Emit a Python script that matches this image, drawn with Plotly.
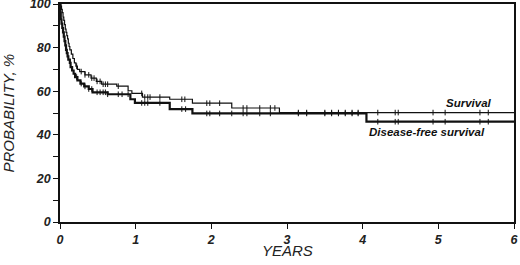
import bisect
import plotly.graph_objects as go

# ---- data ----
surv_t = [0, 0.01, 0.02, 0.03, 0.04, 0.05, 0.06, 0.07, 0.08, 0.09, 0.10, 0.11, 0.12, 0.13,
          0.15, 0.17, 0.19, 0.21, 0.23, 0.26, 0.33, 0.41, 0.48, 0.55, 0.75, 0.90, 0.95,
          1.09, 1.45, 1.75, 2.27, 2.90]
surv_v = [100, 99, 97.5, 96, 94, 92.5, 90.5, 88.5, 87, 85.5, 84, 82, 80.5, 79,
          77, 75, 73, 71.5, 70, 69, 67.5, 66, 64.5, 63.2, 62.3, 60.2, 59,
          57.3, 56.3, 54.5, 52.3, 50.2]
surv_cens = [0.22, 0.28, 0.33, 0.38, 0.42, 0.45, 0.49, 0.53, 0.57, 0.60, 0.63, 0.77, 1.08, 1.12,
             1.16, 1.19, 1.32, 1.61, 1.65, 1.94, 1.98, 2.11, 2.42, 2.47, 2.64, 2.78, 2.84,
             3.15, 3.26, 3.50, 3.59, 3.68, 3.77, 3.86, 3.94, 4.20, 4.43, 4.47, 4.93, 5.09,
             5.55, 5.66]

dfs_t = [0, 0.005, 0.01, 0.02, 0.03, 0.04, 0.05, 0.06, 0.07, 0.08, 0.09, 0.10, 0.11, 0.13,
         0.14, 0.16, 0.18, 0.20, 0.23, 0.27, 0.32, 0.38, 0.43, 0.63, 0.93, 0.99, 1.45,
         1.75, 4.05]
dfs_v = [100, 96, 93, 91, 89, 87, 85, 83, 81, 79, 77.5, 76, 74.5, 73,
         71, 69.5, 68, 66.5, 65, 63.5, 62.2, 61, 59.5, 58.6, 56.3, 54.6, 51.8,
         49.8, 46]
dfs_cens = [0.22, 0.28, 0.33, 0.38, 0.42, 0.49, 0.53, 0.57, 0.60, 0.63, 0.77, 0.82, 0.90, 1.08,
            1.12, 1.16, 1.32, 1.61, 1.66, 1.94, 1.98, 2.11, 2.27, 2.42, 2.47, 2.64, 2.78,
            3.15, 3.26, 3.50, 3.59, 3.68, 3.77, 3.86, 3.94, 4.20, 4.43, 4.47, 4.93, 5.09,
            5.55, 5.66]

x_end = 6.0
x_ticks = [0, 1, 2, 3, 4, 5, 6]
y_ticks = [0, 20, 40, 60, 80, 100]


def step_at(ts, vs, x):
    return vs[bisect.bisect_right(ts, x) - 1]


ink = "#111111"
fam = "Liberation Sans, Arial, sans-serif"
fig = go.Figure()

fig.add_trace(go.Scatter(x=surv_t + [x_end], y=surv_v + [surv_v[-1]], mode="lines",
                         line=dict(shape="hv", color=ink, width=1.2), cliponaxis=False,
                         showlegend=False))
fig.add_trace(go.Scatter(x=dfs_t + [x_end], y=dfs_v + [dfs_v[-1]], mode="lines",
                         line=dict(shape="hv", color=ink, width=2.2), cliponaxis=False,
                         showlegend=False))
fig.add_trace(go.Scatter(x=surv_cens, y=[step_at(surv_t, surv_v, c) for c in surv_cens],
                         mode="markers", showlegend=False,
                         marker=dict(symbol="line-ns", size=4, line=dict(color=ink, width=1))))
fig.add_trace(go.Scatter(x=dfs_cens, y=[step_at(dfs_t, dfs_v, c) for c in dfs_cens],
                         mode="markers", showlegend=False,
                         marker=dict(symbol="line-ns", size=4, line=dict(color=ink, width=1))))

lab_font = dict(family=fam, size=11.5, color=ink, weight="bold", style="italic")
fig.add_annotation(x=5.40, y=surv_v[-1], text="Survival", showarrow=False,
                   yanchor="bottom", yshift=2, font=lab_font)
fig.add_annotation(x=4.85, y=dfs_v[-1], text="Disease-free survival", showarrow=False,
                   yanchor="top", yshift=-2, font=lab_font)

tick_font = dict(family=fam, size=12.5, color="#222222", weight="bold", style="italic")
title_font = dict(family=fam, size=15, color="#222222", style="italic")

fig.add_annotation(xref="paper", yref="paper", x=0.5, y=-0.13, text="YEARS",
                   showarrow=False, font=title_font, yanchor="middle", xanchor="center")
fig.add_annotation(xref="paper", yref="paper", x=-0.1156, y=0.5, text="PROBABILITY, %",
                   showarrow=False, font=title_font, textangle=-90,
                   yanchor="middle", xanchor="center")

fig.update_xaxes(range=[0, 6], tickvals=x_ticks, ticktext=[str(v) for v in x_ticks],
                 ticks="outside", ticklen=5, tickwidth=1.2, tickcolor=ink,
                 showline=True, linecolor=ink, linewidth=1.5, mirror=True,
                 showgrid=False, zeroline=False, tickfont=tick_font,
                 ticklabeloverflow="allow", automargin=False)
fig.update_yaxes(range=[0, 100], tickvals=y_ticks, ticktext=[str(v) for v in y_ticks],
                 ticks="outside", ticklen=5, tickwidth=1.2, tickcolor=ink,
                 minor=dict(dtick=10, ticks="outside", ticklen=5, tickwidth=1.2, tickcolor=ink,
                            showgrid=False),
                 showline=True, linecolor=ink, linewidth=1.5, mirror=True,
                 showgrid=False, zeroline=False, tickfont=tick_font,
                 ticklabeloverflow="allow", automargin=False)

fig.update_layout(width=520, height=265, margin=dict(l=60, r=6, t=4, b=43),
                  plot_bgcolor="white", paper_bgcolor="white")

fig.write_html("out.html", config={"displayModeBar": False},
               post_script="document.body.style.margin='0';document.body.style.overflow='hidden';")
